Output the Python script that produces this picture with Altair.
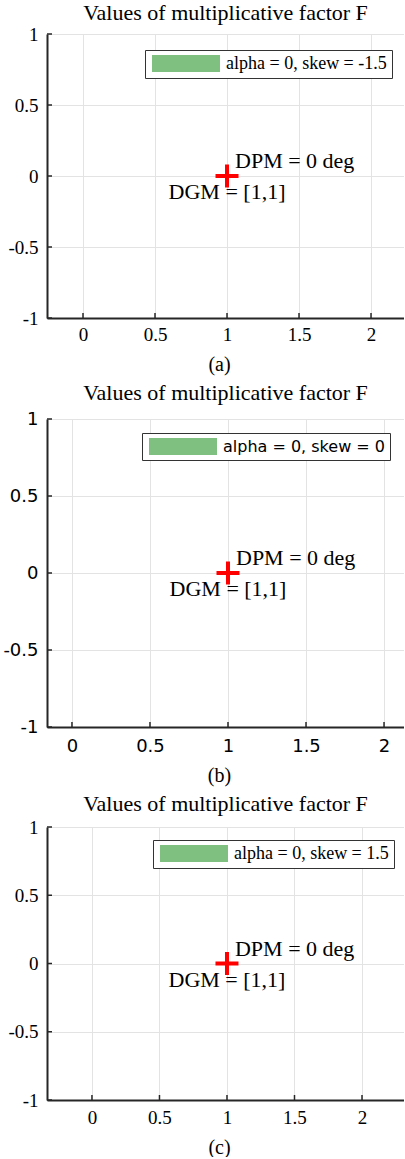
import altair as alt
import pandas as pd

# ---- data ----
titles = ["Values of multiplicative factor F"] * 3
captions = ["(a)", "(b)", "(c)"]
legend_labels = ["alpha = 0, skew = -1.5", "alpha = 0, skew = 0", "alpha = 0, skew = 1.5"]
marker_x = [1, 1, 1]
marker_y = [0, 0, 0]
dpm_labels = ["DPM = 0 deg"] * 3
dgm_labels = ["DGM = [1,1]"] * 3
x_ticks = [0, 0.5, 1, 1.5, 2]
y_ticks = [-1, -0.5, 0, 0.5, 1]
x_domains = [[-0.25, 2.229], [-0.16, 2.128], [-0.333, 2.311]]
y_domain = [-1, 1]

SERIF = "Liberation Serif"
SANS = "DejaVu Sans"
GREEN = "#7fbf7f"
AXIS_COL = "#262626"
GRID_COL = "#e3e3e3"

W = 357
heights = [284, 308, 273]
tick_fonts = [SERIF, SANS, SERIF]
tick_sizes = [19, 18, 19]
legend_fonts = [SERIF, SANS, SERIF]
legend_sizes = [18, 16, 18]
legend_xy = [(98, 16), (95, 14), (106, 13)]
x_label_pad = [7, 10, 8]
title_offsets = [0, 5, 2]


def panel(i):
    h = heights[i]
    xs = alt.Scale(domain=x_domains[i], nice=False, zero=False)
    ys = alt.Scale(domain=y_domain, nice=False, zero=False)
    xax = alt.Axis(
        values=x_ticks, title=captions[i], titleFont=SERIF, titleFontSize=20,
        titleFontWeight="normal", titleColor="black", titlePadding=10, titleX=172,
        labelFont=tick_fonts[i], labelFontSize=tick_sizes[i], labelColor="black",
        labelPadding=x_label_pad[i], ticks=False, tickSize=0,
        labelExpr="toString(datum.value)", labelFlush=False,
        grid=True, gridColor=GRID_COL, gridWidth=1,
        domainColor=AXIS_COL, domainWidth=2)
    yax = alt.Axis(
        values=y_ticks, title=None,
        labelFont=tick_fonts[i], labelFontSize=tick_sizes[i], labelColor="black",
        labelPadding=9, ticks=False, tickSize=0,
        labelExpr="toString(datum.value)", labelFlush=False,
        grid=True, gridColor=GRID_COL, gridWidth=1,
        domainColor=AXIS_COL, domainWidth=2,
        minExtent=47, maxExtent=47)

    pts = pd.DataFrame({"x": [marker_x[i]], "y": [marker_y[i]],
                        "dpm": [dpm_labels[i]], "dgm": [dgm_labels[i]]})

    base = alt.Chart(pts).encode(
        x=alt.X("x:Q", scale=xs, axis=xax),
        y=alt.Y("y:Q", scale=ys, axis=yax),
    )

    plus = base.mark_point(shape="M-1,0H1M0,-1V1", size=529, filled=False,
                           color="#ff0000", strokeWidth=4, opacity=1)
    dpm = base.mark_text(font=SERIF, fontSize=22, align="left", baseline="alphabetic",
                         dx=8, dy=-8, color="black").encode(text="dpm:N")
    dgm = base.mark_text(font=SERIF, fontSize=22, align="center", baseline="alphabetic",
                         dy=23, color="black").encode(text="dgm:N")

    xt = alt.Chart(pd.DataFrame({"x": x_ticks})).mark_rule(color=AXIS_COL, strokeWidth=1.5).encode(
        x=alt.X("x:Q", scale=xs, axis=xax), y=alt.value(h), y2=alt.value(h - 5))
    yt = alt.Chart(pd.DataFrame({"y": y_ticks})).mark_rule(color=AXIS_COL, strokeWidth=1.5).encode(
        y=alt.Y("y:Q", scale=ys, axis=yax), x=alt.value(0), x2=alt.value(5))

    lx, ly = legend_xy[i]
    leg = alt.Chart(pd.DataFrame({"series": [legend_labels[i]], "x": [None], "y": [None]})).mark_point(
        filled=True, opacity=1).encode(
        x=alt.X("x:Q", scale=xs, axis=xax),
        y=alt.Y("y:Q", scale=ys, axis=yax),
        color=alt.Color("series:N", scale=alt.Scale(domain=[legend_labels[i]], range=[GREEN]),
                        legend=alt.Legend(
                            title=None, orient="none", legendX=lx, legendY=ly,
                            symbolType="M-1,-0.25H1V0.25H-1Z", symbolSize=4624,
                            symbolStrokeWidth=0, symbolOpacity=1, clipHeight=17,
                            symbolOffset=2,
                            labelFont=legend_fonts[i], labelFontSize=legend_sizes[i],
                            labelColor="black", labelOffset=6, padding=5, labelLimit=400,
                            strokeColor="#333333", fillColor="white", cornerRadius=0)),
    )

    return alt.layer(leg, xt, yt, plus, dpm, dgm).properties(
        width=W, height=h,
        title=alt.Title(titles[i], font=SERIF, fontSize=22, fontWeight="normal",
                        color="black", offset=title_offsets[i], frame="group", anchor="middle"),
    )


chart = alt.vconcat(panel(0), panel(1), panel(2), spacing=8).resolve_scale(
    color="independent", x="independent", y="independent"
).properties(
    padding={"left": 0, "right": 0, "top": 2, "bottom": 0},
    background="white",
).configure_view(stroke=None)

chart.save("out.html", embed_options={"renderer": "svg", "actions": False})
